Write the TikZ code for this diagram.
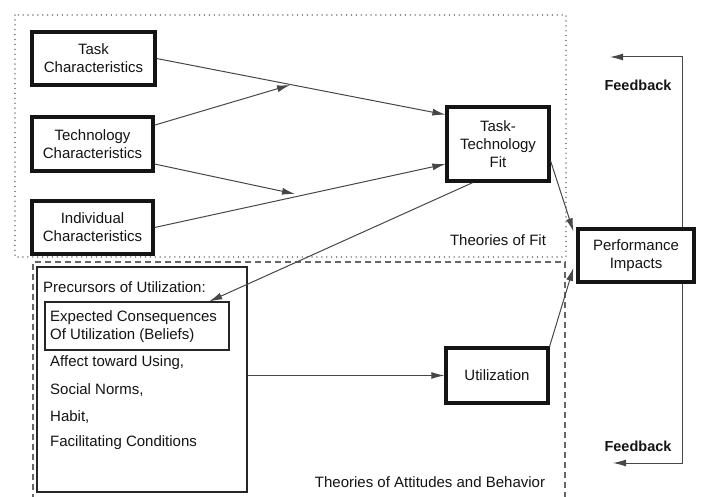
\documentclass[tikz,border=0pt]{standalone}
\usepackage{fontspec}
\setmainfont{Liberation Sans}
\usetikzlibrary{arrows.meta,calc}
\begin{document}
\begin{tikzpicture}[x=1pt,y=-1pt,
  txt/.style={font=\fontsize{15}{18}\selectfont, text=black!92},
  bigbox/.style={draw=black!92, line width=3.2pt, align=center, inner sep=0pt, txt},
  conn/.style={draw=black!72, line width=1pt, -{Latex[length=13pt,width=7pt]}},
  fitframe/.style={draw=black!50, line width=1.4pt, line cap=round, dash pattern=on 0.1pt off 4.8pt},
  attframe/.style={draw=black!60, line width=1.1pt, dash pattern=on 6pt off 4pt},
  lbl/.style={txt, inner sep=0pt}
]
\useasboundingbox (0,0) rectangle (701,497);
\fill[white] (0,0) rectangle (701,497);
% frames
\draw[fitframe] (15,15) rectangle (566,257);
\draw[attframe] (33,510) -- (33,262) -- (565,262) -- (565,510);
% boxes
\node[bigbox, minimum width=123pt, minimum height=53pt] (task) at (93.5,58.5) {Task\\Characteristics};
\node[bigbox, minimum width=121pt, minimum height=54pt] (tech) at (92.5,144) {Technology\\Characteristics};
\node[bigbox, minimum width=121pt, minimum height=53pt] (indiv) at (92.5,227.5) {Individual\\Characteristics};
\node[bigbox, minimum width=102pt, minimum height=74pt] (ttf) at (498,144) {Task-\\Technology\\Fit};
\node[bigbox, minimum width=116pt, minimum height=53pt] (perf) at (636,255.5) {Performance\\Impacts};
\node[bigbox, minimum width=102pt, minimum height=55pt] (util) at (497,375.5) {Utilization};
% precursors
\node[draw=black!85, line width=1.1pt, minimum width=210pt, minimum height=225pt, inner sep=0pt] (prec) at (142,379.5) {};
\node[draw=black!85, line width=1.1pt, minimum width=184pt, minimum height=48pt, inner sep=0pt] (exp) at (137,326) {};
\node[lbl, anchor=west] (ptitle) at (43,287) {Precursors of Utilization:};
\node[lbl, anchor=west, align=left] (exptxt) at (50,326.5) {Expected Consequences\\Of Utilization (Beliefs)};
\node[lbl, anchor=west] (aff) at (50,363) {Affect toward Using,};
\node[lbl, anchor=west] (soc) at (50,390) {Social Norms,};
\node[lbl, anchor=west] (hab) at (50,417) {Habit,};
\node[lbl, anchor=west] (fac) at (50,443) {Facilitating Conditions};
% labels
\node[lbl] (tof) at (498,240) {Theories of Fit};
\node[lbl] (toa) at (430,482) {Theories of Attitudes and Behavior};
\node[lbl, font=\bfseries\fontsize{14.5}{18}\selectfont] (fb1) at (638,85) {Feedback};
\node[lbl, font=\bfseries\fontsize{14.5}{18}\selectfont] (fb2) at (638,446) {Feedback};
% coordinates
\coordinate (m1) at (290,85);
\coordinate (m2) at (295,194);
\coordinate (fbtop) at (610,57);
\coordinate (fbbot) at (613,463);
% connectors
\draw[conn] (task.east) -- ($(ttf.north west)!0.12!(ttf.south west)$);
\draw[conn] ($(tech.north east)!0.17!(tech.south east)$) -- (m1);
\draw[conn] ($(tech.north east)!0.85!(tech.south east)$) -- (m2);
\draw[conn] (indiv.east) -- ($(ttf.north west)!0.76!(ttf.south west)$);
\draw[conn] ($(ttf.south west)!0.26!(ttf.south east)$) -- ($(exp.north west)!0.89!(exp.north east)$);
\draw[conn] ($(ttf.north east)!0.72!(ttf.south east)$) -- ($(perf.north west)!0.07!(perf.south west)+(-3,0)$);
\draw[conn] (util.north east) -- ($(perf.north west)!0.72!(perf.south west)+(-3,0)$);
\draw[conn] (prec.east |- util.west) -- (util.west);
\draw[conn] ($(perf.north west)!0.89!(perf.north east)$) |- (fbtop);
\draw[conn] ($(perf.south west)!0.89!(perf.south east)$) |- (fbbot);
\end{tikzpicture}
\end{document}
